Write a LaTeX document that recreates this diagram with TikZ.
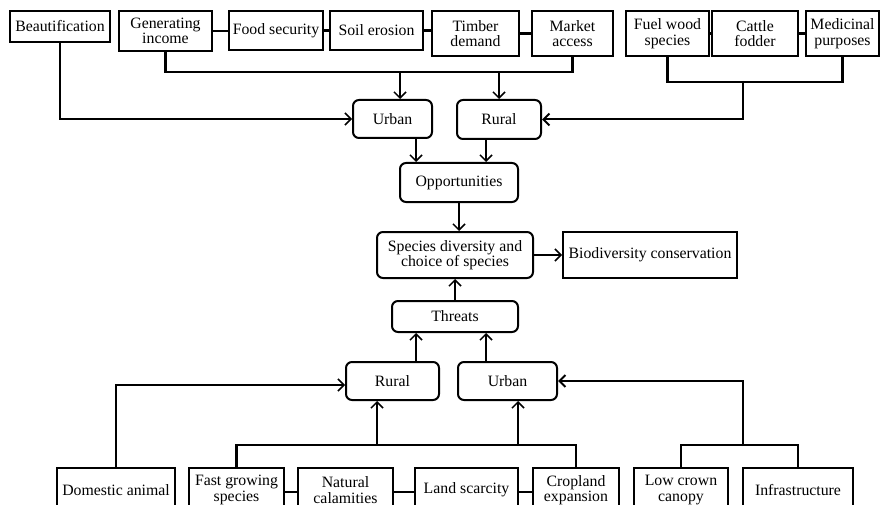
\documentclass[tikz,border=0pt]{standalone}
\usepackage{fontspec}
\setmainfont{Liberation Serif}
\usetikzlibrary{arrows.meta}
\begin{document}
\begin{tikzpicture}[x=1pt,y=-1pt,
  box/.style={draw,line width=2pt,inner sep=1pt,align=center,font=\fontsize{15.8}{15.5}\selectfont},
  rbox/.style={box,rounded corners=6pt},
  bus/.style={line width=2.5pt},
  >={Straight Barb[length=6pt,width=12pt]}]
\clip (0,0) rectangle (880,505);
\node[box,minimum width=100,minimum height=31] (beaut) at (60,26.5) {Beautification};
\node[box,minimum width=93,minimum height=40] (gen) at (165.5,31) {Generating\\income};
\node[box,minimum width=94,minimum height=39] (food) at (276,30.5) {Food security};
\node[box,minimum width=93,minimum height=39] (soil) at (376.5,30.5) {Soil erosion};
\node[box,minimum width=87,minimum height=45] (timber) at (475.5,33.5) {Timber\\demand};
\node[box,minimum width=81,minimum height=45] (market) at (572.5,33.5) {Market\\access};
\node[box,minimum width=83,minimum height=45] (fuel) at (667.5,33.5) {Fuel wood\\species};
\node[box,minimum width=86,minimum height=45] (cattle) at (755,33.5) {Cattle\\fodder};
\node[box,minimum width=73,minimum height=45] (medic) at (842.5,33.5) {Medicinal\\purposes};
\node[rbox,minimum width=79,minimum height=38] (urbanT) at (392.5,119) {Urban};
\node[rbox,minimum width=84,minimum height=39] (ruralT) at (499,119.5) {Rural};
\node[rbox,minimum width=118,minimum height=39] (opp) at (459,182.5) {Opportunities};
\node[rbox,minimum width=156,minimum height=46] (species) at (455,255) {Species diversity and\\choice of species};
\node[box,minimum width=174,minimum height=46] (biodiv) at (650,255) {Biodiversity conservation};
\node[rbox,minimum width=126,minimum height=31] (threats) at (455,316.5) {Threats};
\node[rbox,minimum width=93,minimum height=38] (ruralB) at (392.5,381) {Rural};
\node[rbox,minimum width=99,minimum height=38] (urbanB) at (507.5,381) {Urban};
\node[box,minimum width=118,minimum height=44] (dom) at (116,490) {Domestic animal};
\node[box,minimum width=95,minimum height=44] (fast) at (236.5,490) {Fast growing\\species};
\node[box,minimum width=95,minimum height=44] (natural) at (345.5,490) {Natural\\calamities};
\node[box,minimum width=103,minimum height=44] (land) at (466.5,490) {Land scarcity};
\node[box,minimum width=86,minimum height=44] (crop) at (576,490) {Cropland\\expansion};
\node[box,minimum width=94,minimum height=44] (low) at (681,490) {Low crown\\canopy};
\node[box,minimum width=110,minimum height=44] (infra) at (798,490) {Infrastructure};

\draw[bus] (gen.east) -- (gen.east -| food.west);
\draw[bus] (food.east) -- (food.east -| soil.west);
\draw[bus] (soil.east) -- (soil.east -| timber.west);
\draw[bus] (timber.east) -- (timber.east -| market.west);
\draw[bus] (fuel.east) -- (fuel.east -| cattle.west);
\draw[bus] (cattle.east) -- (cattle.east -| medic.west);
\draw[bus] (gen.south) -- ++(0,20) coordinate (topbus) -| (market.south);
\draw[bus] (fuel.south) -- ++(0,25) -| (medic.south);
\coordinate (fuelbus) at (743,81);
\draw[line width=1.5pt,->] ([xshift=7.5pt]urbanT.north |- topbus) -- ([xshift=7.5pt]urbanT.north);
\draw[line width=1.5pt,->] (ruralT.north |- topbus) -- (ruralT.north);
\draw[line width=1.5pt,->] (beaut.south) |- (urbanT.west);
\draw[line width=2pt,->] (fuelbus) |- (ruralT.east);
\draw[line width=1.5pt,->] ([xshift=-43pt]opp.north |- urbanT.south) -- ([xshift=-43pt]opp.north);
\draw[line width=1.5pt,->] ([xshift=27pt]opp.north |- ruralT.south) -- ([xshift=27pt]opp.north);
\draw[line width=1.5pt,->] (opp.south) -- (opp.south |- species.north);
\draw[line width=1.5pt,->] (species) -- (biodiv);
\draw[line width=1.5pt,->] (threats) -- (species);
\draw[line width=1.5pt,->] ([xshift=-39pt]threats.south |- ruralB.north) -- ([xshift=-39pt]threats.south);
\draw[line width=1.5pt,->] ([xshift=31pt]threats.south |- urbanB.north) -- ([xshift=31pt]threats.south);

\draw[bus] (fast.east |- 0,492) -- (natural.west |- 0,492);
\draw[bus] (natural.east |- 0,492) -- (land.west |- 0,492);
\draw[bus] (land.east |- 0,492) -- (crop.west |- 0,492);
\draw[bus] (fast.north) -- ++(0,-22) coordinate (botbus) -| (crop.north);
\draw[bus] (low.north) -- ++(0,-22) -| (infra.north);
\coordinate (lowbus) at (743,446);
\draw[line width=1.5pt,->] (dom.north) |- ([yshift=-4pt]ruralB.west);
\draw[line width=1.5pt,->] ([xshift=-15.5pt]ruralB.south |- botbus) -- ([xshift=-15.5pt]ruralB.south);
\draw[line width=1.5pt,->] ([xshift=10.5pt]urbanB.south |- botbus) -- ([xshift=10.5pt]urbanB.south);
\draw[line width=2pt,->] (lowbus) |- (urbanB.east);
\end{tikzpicture}
\end{document}
